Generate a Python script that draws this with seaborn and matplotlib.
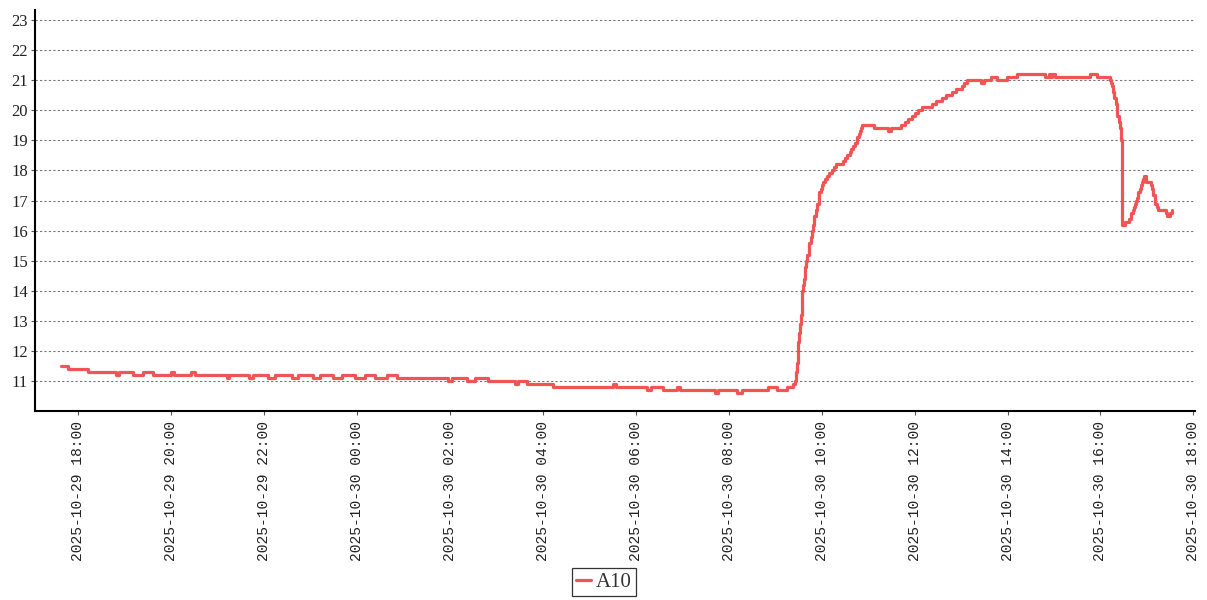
import pandas as pd
import matplotlib
matplotlib.use('Agg')
import matplotlib.pyplot as plt
import matplotlib.dates as mdates
import seaborn as sns

# sensor A10 readings (step changes only)
times = [
    '2025-10-29 17:37', '2025-10-29 17:46', '2025-10-29 18:13', '2025-10-29 18:48', '2025-10-29 18:53',
    '2025-10-29 19:11', '2025-10-29 19:24', '2025-10-29 19:37', '2025-10-29 19:59', '2025-10-29 20:03',
    '2025-10-29 20:26', '2025-10-29 20:30', '2025-10-29 21:12', '2025-10-29 21:15', '2025-10-29 21:41',
    '2025-10-29 21:45', '2025-10-29 22:05', '2025-10-29 22:14', '2025-10-29 22:36', '2025-10-29 22:44',
    '2025-10-29 23:03', '2025-10-29 23:12', '2025-10-29 23:29', '2025-10-29 23:41', '2025-10-29 23:57',
    '2025-10-30 00:10', '2025-10-30 00:23', '2025-10-30 00:39', '2025-10-30 00:52', '2025-10-30 01:57',
    '2025-10-30 02:03', '2025-10-30 02:22', '2025-10-30 02:32', '2025-10-30 02:49', '2025-10-30 03:24',
    '2025-10-30 03:28', '2025-10-30 03:39', '2025-10-30 04:13', '2025-10-30 05:30', '2025-10-30 05:34',
    '2025-10-30 06:15', '2025-10-30 06:19', '2025-10-30 06:35', '2025-10-30 06:53', '2025-10-30 06:57',
    '2025-10-30 07:42', '2025-10-30 07:46', '2025-10-30 08:10', '2025-10-30 08:17', '2025-10-30 08:50',
    '2025-10-30 09:02', '2025-10-30 09:15', '2025-10-30 09:23', '2025-10-30 09:25', '2025-10-30 09:27',
    '2025-10-30 09:28', '2025-10-30 09:29', '2025-10-30 09:30', '2025-10-30 09:31', '2025-10-30 09:32',
    '2025-10-30 09:33', '2025-10-30 09:34', '2025-10-30 09:35', '2025-10-30 09:36', '2025-10-30 09:37',
    '2025-10-30 09:38', '2025-10-30 09:39', '2025-10-30 09:40', '2025-10-30 09:41', '2025-10-30 09:43',
    '2025-10-30 09:44', '2025-10-30 09:46', '2025-10-30 09:47', '2025-10-30 09:49', '2025-10-30 09:50',
    '2025-10-30 09:52', '2025-10-30 09:54', '2025-10-30 09:56', '2025-10-30 09:57', '2025-10-30 09:59',
    '2025-10-30 10:00', '2025-10-30 10:02', '2025-10-30 10:04', '2025-10-30 10:07', '2025-10-30 10:10',
    '2025-10-30 10:13', '2025-10-30 10:16', '2025-10-30 10:19', '2025-10-30 10:27', '2025-10-30 10:30',
    '2025-10-30 10:33', '2025-10-30 10:36', '2025-10-30 10:38', '2025-10-30 10:40', '2025-10-30 10:43',
    '2025-10-30 10:45', '2025-10-30 10:46', '2025-10-30 10:48', '2025-10-30 10:49', '2025-10-30 10:51',
    '2025-10-30 10:52', '2025-10-30 11:08', '2025-10-30 11:25', '2025-10-30 11:29', '2025-10-30 11:42',
    '2025-10-30 11:47', '2025-10-30 11:51', '2025-10-30 11:57', '2025-10-30 12:01', '2025-10-30 12:04',
    '2025-10-30 12:10', '2025-10-30 12:23', '2025-10-30 12:28', '2025-10-30 12:35', '2025-10-30 12:41',
    '2025-10-30 12:48', '2025-10-30 12:54', '2025-10-30 13:01', '2025-10-30 13:04', '2025-10-30 13:07',
    '2025-10-30 13:26', '2025-10-30 13:29', '2025-10-30 13:39', '2025-10-30 13:46', '2025-10-30 13:59',
    '2025-10-30 14:12', '2025-10-30 14:49', '2025-10-30 14:53', '2025-10-30 14:56', '2025-10-30 14:58',
    '2025-10-30 15:01', '2025-10-30 15:47', '2025-10-30 15:56', '2025-10-30 16:12', '2025-10-30 16:14',
    '2025-10-30 16:15', '2025-10-30 16:16', '2025-10-30 16:18', '2025-10-30 16:20', '2025-10-30 16:21',
    '2025-10-30 16:22', '2025-10-30 16:24', '2025-10-30 16:25', '2025-10-30 16:26', '2025-10-30 16:27',
    '2025-10-30 16:28', '2025-10-30 16:32', '2025-10-30 16:37', '2025-10-30 16:39', '2025-10-30 16:40',
    '2025-10-30 16:42', '2025-10-30 16:43', '2025-10-30 16:44', '2025-10-30 16:46', '2025-10-30 16:47',
    '2025-10-30 16:48', '2025-10-30 16:49', '2025-10-30 16:51', '2025-10-30 16:52', '2025-10-30 16:53',
    '2025-10-30 16:55', '2025-10-30 16:56', '2025-10-30 16:59', '2025-10-30 17:05', '2025-10-30 17:07',
    '2025-10-30 17:08', '2025-10-30 17:10', '2025-10-30 17:11', '2025-10-30 17:13', '2025-10-30 17:14',
    '2025-10-30 17:24', '2025-10-30 17:26', '2025-10-30 17:30', '2025-10-30 17:33',
]
values = [
    11.5, 11.4, 11.3, 11.2, 11.3,
    11.2, 11.3, 11.2, 11.3, 11.2,
    11.3, 11.2, 11.1, 11.2, 11.1,
    11.2, 11.1, 11.2, 11.1, 11.2,
    11.1, 11.2, 11.1, 11.2, 11.1,
    11.2, 11.1, 11.2, 11.1, 11.0,
    11.1, 11.0, 11.1, 11.0, 10.9,
    11.0, 10.9, 10.8, 10.9, 10.8,
    10.7, 10.8, 10.7, 10.8, 10.7,
    10.6, 10.7, 10.6, 10.7, 10.8,
    10.7, 10.8, 10.9, 11.0, 11.3,
    11.6, 12.0, 12.3, 12.6, 12.9,
    13.2, 13.6, 14.0, 14.2, 14.4,
    14.6, 14.8, 15.0, 15.2, 15.4,
    15.6, 15.8, 16.0, 16.2, 16.5,
    16.7, 16.9, 17.1, 17.3, 17.4,
    17.5, 17.6, 17.7, 17.8, 17.9,
    18.0, 18.1, 18.2, 18.3, 18.4,
    18.5, 18.6, 18.7, 18.8, 18.9,
    19.0, 19.1, 19.2, 19.3, 19.4,
    19.5, 19.4, 19.3, 19.4, 19.5,
    19.6, 19.7, 19.8, 19.9, 20.0,
    20.1, 20.2, 20.3, 20.4, 20.5,
    20.6, 20.7, 20.8, 20.9, 21.0,
    20.9, 21.0, 21.1, 21.0, 21.1,
    21.2, 21.1, 21.2, 21.1, 21.2,
    21.1, 21.2, 21.1, 21.0, 20.9,
    20.8, 20.6, 20.4, 20.2, 20.0,
    19.8, 19.6, 19.4, 19.2, 19.0,
    16.2, 16.3, 16.4, 16.5, 16.6,
    16.7, 16.8, 16.9, 17.0, 17.1,
    17.2, 17.3, 17.4, 17.5, 17.6,
    17.7, 17.8, 17.6, 17.5, 17.4,
    17.2, 17.0, 16.9, 16.8, 16.7,
    16.6, 16.5, 16.6, 16.7,
]
series_name = 'A10'
y_ticks = list(range(11, 24))

df = pd.DataFrame({'time': pd.to_datetime(times), 'value': values})

sns.set_style('white')
plt.rcParams['font.family'] = ['Liberation Serif', 'DejaVu Serif']

fig = plt.figure(figsize=(12.07, 6.0), dpi=100)
ax = fig.add_axes([0.029, 0.315, 0.961, 0.668])

sns.lineplot(data=df, x='time', y='value', ax=ax, color='#f05454', linewidth=2.3,
             drawstyle='steps-post', estimator=None, label=series_name, legend=False)

ax.set_xlim(pd.Timestamp('2025-10-29 17:04'), pd.Timestamp('2025-10-30 18:02'))
ax.set_ylim(10.0, 23.33)
ax.set_yticks(y_ticks)
ax.xaxis.set_major_locator(mdates.HourLocator(byhour=range(0, 24, 2)))
ax.xaxis.set_major_formatter(mdates.DateFormatter('%Y-%m-%d %H:%M'))
ax.set_xlabel('')
ax.set_ylabel('')

ax.yaxis.grid(True, linestyle=(0, (2, 2)), color='#777777', linewidth=0.8)
ax.xaxis.grid(False)
ax.set_axisbelow(True)

for s in ['top', 'right']:
    ax.spines[s].set_visible(False)
for s in ['left', 'bottom']:
    ax.spines[s].set_color('black')
    ax.spines[s].set_linewidth(1.5)

ax.tick_params(axis='y', length=3, width=0.8, color='#555555', labelsize=12, pad=2,
               left=True, labelcolor='#222222')
ax.tick_params(axis='x', length=3, width=0.8, color='#555555', pad=4, bottom=True)
for lbl in ax.get_xticklabels():
    lbl.set_rotation(90)
    lbl.set_fontfamily(['Liberation Mono', 'DejaVu Sans Mono'])
    lbl.set_fontsize(10.5)
    lbl.set_color('#222222')

handles, labels = ax.get_legend_handles_labels()
leg = fig.legend(handles, labels, loc='center', bbox_to_anchor=(0.5, 0.03),
                 fontsize=15, frameon=True, fancybox=False, handlelength=0.75,
                 handletextpad=0.2, borderpad=0.2, borderaxespad=0)
leg.get_frame().set_edgecolor('black')
leg.get_frame().set_linewidth(0.9)
for t in leg.get_texts():
    t.set_color('#333333')

fig.savefig('out.png', dpi=100)
